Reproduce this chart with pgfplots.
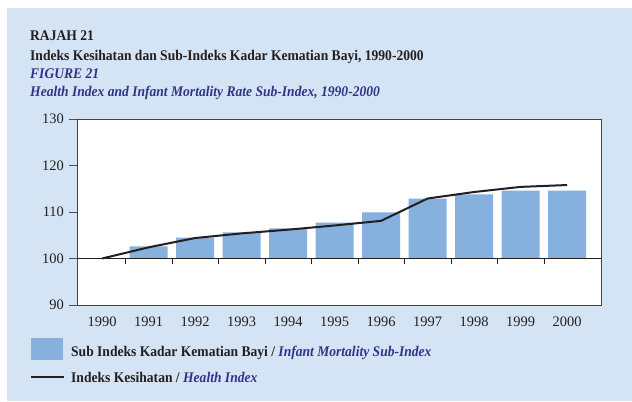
\documentclass[border=0pt]{standalone}
\usepackage{pgfplots}
\pgfplotsset{compat=1.18}
\usepackage{pgfplotstable}
\usepackage{fontspec}
\setmainfont{Liberation Serif}
\newfontfamily\titlefont{Liberation Serif}[FakeStretch=0.92]
\definecolor{bg}{HTML}{D4E4F4}
\definecolor{barc}{HTML}{86B0DD}
\definecolor{navy}{HTML}{2E3487}
\definecolor{txt}{HTML}{231F20}

\pgfplotstableread{
x bar
1 102.6
2 104.5
3 105.6
4 106.5
5 107.7
6 109.9
7 112.9
8 113.8
9 114.6
10 114.6
}\bars

\pgfplotstableread{
x hi
0 100.0
1 102.4
2 104.4
3 105.4
4 106.2
5 107.1
6 108.1
7 112.9
8 114.3
9 115.4
10 115.8
}\health

\begin{document}
\begin{tikzpicture}[x=1bp,y=1bp]
\fill[bg] (7,0) rectangle (632,393);
\path (0,0) rectangle (632,401);
\titlefont\fontsize{14.8}{17}\selectfont
\node[anchor=base west, txt, font=\bfseries, inner sep=0] at (30,361) {RAJAH 21};
\node[anchor=base west, txt, font=\bfseries, inner sep=0] at (30,341) {Indeks Kesihatan dan Sub-Indeks Kadar Kematian Bayi, 1990-2000};
\node[anchor=base west, navy, font=\bfseries\itshape, inner sep=0] at (30,323) {FIGURE 21};
\node[anchor=base west, navy, font=\bfseries\itshape, inner sep=0] at (30,305) {Health Index and Infant Mortality Rate Sub-Index, 1990-2000};
\begin{axis}[
  at={(77bp,96bp)}, anchor=south west, scale only axis,
  width=524bp, height=186bp,
  xmin=-0.54, xmax=10.73, ymin=-10, ymax=30,
  ytick={-10,0,10,20,30}, yticklabels={90,100,110,120,130},
  xtick={0,...,10}, xticklabels={1990,1991,1992,1993,1994,1995,1996,1997,1998,1999,2000},
  tick align=outside,
  ytick pos=left,
  x tick style={draw=none},
  y tick style={txt!80, line width=0.6pt},
  major tick length=8bp,
  axis line style={txt!85, line width=0.8pt},
  axis background/.style={fill=white},
  ticklabel style={font=\normalfont\fontsize{14.5}{17}\selectfont, text=txt},
  /pgf/number format/assume math mode=true,
  xticklabel style={yshift=1bp},
  clip=false,
]
\addplot[ybar, bar width=0.82, fill=barc, draw=none] table[x=x, y expr=\thisrow{bar}-100]{\bars};
\draw[txt, line width=0.8pt] (axis cs:-0.54,0) -- (axis cs:10.73,0);
\pgfplotsinvokeforeach{0.5,1.5,2.5,3.5,4.5,5.5,6.5,7.5,8.5,9.5}{
  \draw[txt, line width=0.6pt] (axis cs:#1,0) -- ++(0pt,-5bp);
}
\addplot[txt, line width=2bp] table[x=x, y expr=\thisrow{hi}-100]{\health};
\end{axis}
\fill[barc] (31,41) rectangle (63,63);
\draw[txt, line width=2bp] (31,24) -- (64,24);
\node[anchor=base west, font=\bfseries, inner sep=0] at (71,45) {\textcolor{txt}{Sub Indeks Kadar Kematian Bayi /} \textcolor{navy}{\itshape Infant Mortality Sub-Index}};
\node[anchor=base west, font=\bfseries, inner sep=0] at (71,19) {\textcolor{txt}{Indeks Kesihatan /} \textcolor{navy}{\itshape Health Index}};
\end{tikzpicture}
\end{document}
